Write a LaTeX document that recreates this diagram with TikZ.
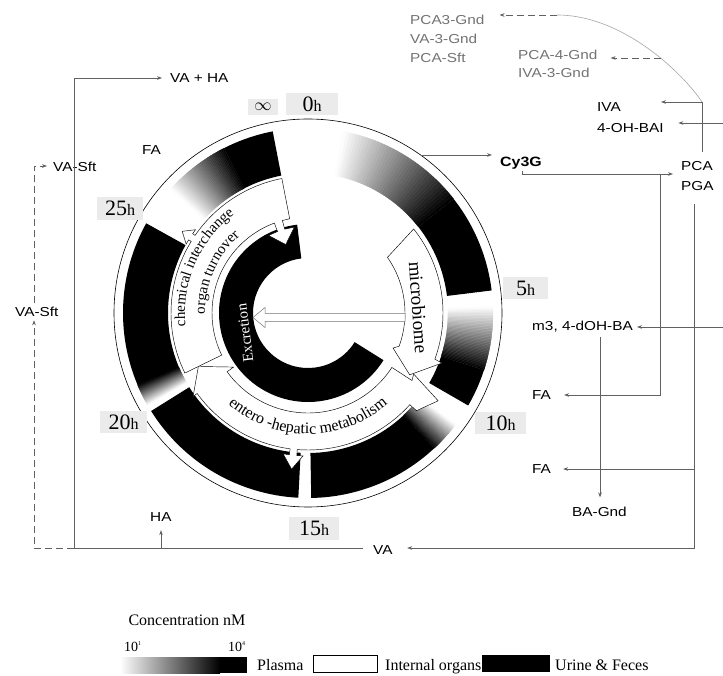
\documentclass[tikz,border=0pt]{standalone}
\usepackage{fontspec}
\setmainfont{Liberation Serif}
\newfontfamily\lsans[FakeStretch=1.18]{Liberation Sans}
\usetikzlibrary{arrows.meta,decorations.text}
\definecolor{boxgray}{gray}{0.92}
\definecolor{txtgray}{gray}{0.45}
\definecolor{linegray}{gray}{0.38}

% plasma band gradient sector: a1, a2, black% at a1, black% at a2
\newcommand{\pgrad}[4]{%
  \foreach \i in {0,...,39}{%
    \pgfmathsetmacro{\aS}{#1+(#2-#1)*\i/40}%
    \pgfmathsetmacro{\aE}{#1+(#2-#1)*(\i+1)/40}%
    \pgfmathsetmacro{\kk}{#3+(#4-#3)*(\i+0.5)/40}%
    \filldraw[black!\kk, line width=0.25pt] (\aS:140pt) arc[start angle=\aS, end angle=\aE, radius=140pt] -- (\aE:185pt) arc[start angle=\aE, end angle=\aS, radius=185pt] -- cycle;
  }%
}
\newcommand{\psolid}[2]{%
  \fill[black] (#1:140pt) arc[start angle=#1, end angle=#2, radius=140pt] -- (#2:185pt) arc[start angle=#2, end angle=#1, radius=185pt] -- cycle;}
\newcommand{\hrs}[1]{#1{\fontsize{16}{16}\selectfont h}}

\begin{document}
\begin{tikzpicture}[x=1pt,y=1pt,
  lab/.style={font=\lsans\fontsize{13}{13}\selectfont, inner sep=0pt, anchor=base west},
  glab/.style={lab, text=txtgray},
  conn/.style={draw=linegray, line width=0.6pt},
  arr/.style={conn, -{Stealth[length=5pt,width=3.6pt]}},
  darr/.style={arr, dash pattern=on 7pt off 4pt},
  band/.style={fill=white, draw=black, line width=0.45pt},
  hbox/.style={fill=boxgray, inner sep=0pt, font=\fontsize{22}{22}\selectfont},
  leg/.style={inner sep=0pt, anchor=base west, font=\fontsize{16}{16}\selectfont},
  arctext/.style={decorate, decoration={text along path, text align=center}}
]
\useasboundingbox (0,0) rectangle (723,675);
\fill[white] (0,0) rectangle (723,675);

\begin{scope}[shift={(308,362)}]
  \coordinate (C) at (0,0);
  \draw[line width=0.6pt] (C) circle[radius=194pt];
  % plasma band
  \psolid{101}{117} \pgrad{117}{138}{100}{0}
  \psolid{151}{203} \pgrad{203}{210}{100}{0}
  \psolid{212}{267}
  \psolid{271}{313} \pgrad{313}{323}{100}{0}
  \psolid{330}{342} \pgrad{342}{362}{100}{0}
  \psolid{7}{38} \pgrad{38}{79}{100}{0}
  % excretion ring
  \fill[black] (97:55pt) arc[start angle=97, end angle=328, radius=55pt] -- (328:89pt) arc[start angle=328, end angle=97, radius=89pt] -- cycle;
  % chemical interchange / organ turnover band
  \filldraw[band] (206:137pt) arc[start angle=206, end angle=148.5, radius=137pt]
     -- (148.5:140pt) -- (150.5:140pt) -- (147:150pt) -- (143.5:140pt) -- (145.5:140pt)
     -- (145.5:137pt) arc[start angle=145.5, end angle=101, radius=137pt]
     -- (101:96pt) -- (105.5:96pt) -- (105.5:87pt) -- (99:87pt) -- (108:72pt) -- (117:87pt) -- (110.5:87pt) -- (110.5:96pt)
     arc[start angle=110.5, end angle=206, radius=96pt] -- cycle;
  % microbiome band
  \filldraw[band] (35:97pt) -- (38.5:135pt) arc[start angle=38.5, end angle=-20, radius=135pt]
     -- (-20.5:143pt) -- (-31.3:119pt) -- (-22.4:92pt) -- (-20:97pt)
     arc[start angle=-20, end angle=35, radius=97pt] -- cycle;
  % entero-hepatic band
  \filldraw[band] (216:100pt) -- (216:92pt) -- (206:122pt) -- (216:142pt) -- (216:137pt)
     arc[start angle=216, end angle=262.5, radius=137pt]
     -- (262.5:143pt) -- (260:143pt) -- (264:157pt) -- (268:143pt) -- (265.5:143pt) -- (265.5:137pt)
     arc[start angle=265.5, end angle=318, radius=137pt]
     -- (318:146pt) -- (326:157pt) -- (330:122pt) -- (327:124pt) -- (327:100pt)
     arc[start angle=327, end angle=216, radius=100pt] -- cycle;
  % central arrow
  \filldraw[fill=white, draw=black!55, line width=0.5pt] (97,-0.5) -- (-43,-0.5) -- (-43,5.5) -- (-55,-4.5) -- (-43,-14.5) -- (-43,-8.5) -- (97,-8.5) -- cycle;
  % texts
  \node[text=white, rotate=97, font=\fontsize{15}{15}\selectfont] (excr) at (-63,-20) {Excretion};
  \node[rotate=-86, font=\fontsize{19}{19}\selectfont] (micro) at (110.5,5.5) {microbiome};
  \path[arctext, decoration={text={|\fontsize{15}{15}\selectfont|chemical interchange}}]
     (195:123pt) arc[start angle=195, end angle=118, radius=123pt];
  \path[arctext, decoration={text={|\fontsize{15}{15}\selectfont|organ turnover}}]
     (190:103pt) arc[start angle=190, end angle=122, radius=103pt];
  \path[arctext, decoration={text={|\fontsize{16}{16}\selectfont|entero -hepatic metabolism}}]
     (215:121pt) arc[start angle=215, end angle=325, radius=121pt];
\end{scope}

% hour labels
\node[hbox, minimum width=30, minimum height=16] (hinf) at (263,568) {\fontsize{19}{19}\selectfont$\infty$};
\node[hbox, minimum width=52, minimum height=22] (h0) at (312,571) {\hrs{0}};
\node[hbox, minimum width=46, minimum height=23] (h25) at (120,466.5) {\hrs{25}};
\node[hbox, minimum width=45, minimum height=22] (h5) at (525.5,387) {\hrs{5}};
\node[hbox, minimum width=51, minimum height=22] (h10) at (500.5,252) {\hrs{10}};
\node[hbox, minimum width=50, minimum height=23] (h15) at (314,146.5) {\hrs{15}};
\node[hbox, minimum width=47, minimum height=22] (h20) at (123.5,253) {\hrs{20}};

% labels
\node[glab] (pca3) at (410,650) {PCA3-Gnd};
\node[glab] (va3) at (410,631) {VA-3-Gnd};
\node[glab] (pcasft) at (410,612) {PCA-Sft};
\node[glab] (pca4) at (518,615) {PCA-4-Gnd};
\node[glab] (iva3) at (518,597) {IVA-3-Gnd};
\node[lab] (iva) at (597,563) {IVA};
\node[lab] (ohbai) at (597,542) {4-OH-BAI};
\node[lab, font=\lsans\bfseries\fontsize{13.5}{13.5}\selectfont] (cy) at (500,508) {Cy3G};
\node[lab] (pca) at (681,504) {PCA};
\node[lab] (pga) at (681,484) {PGA};
\node[lab] (m3) at (532,344) {m3, 4-dOH-BA};
\node[lab] (fa1) at (532,275) {FA};
\node[lab] (fa2) at (532,201) {FA};
\node[lab] (bagnd) at (572,158) {BA-Gnd};
\node[lab] (va) at (373,120) {VA};
\node[lab] (vaha) at (170,592) {VA + HA};
\node[lab] (ha) at (150,153) {HA};
\node[lab] (vasft1) at (53,503) {VA-Sft};
\node[lab] (vasft2) at (15,358) {VA-Sft};
\node[lab] (faL) at (142,520) {FA};

% junction coordinates
\coordinate (cv) at (702,573);
\coordinate (cvend) at (557,660);
\coordinate (cvmid) at (661,617);
\coordinate (redge1) at (723,552);
\coordinate (redge2) at (723,348);
\coordinate (cystart) at (420.6,520);
\coordinate (j1) at (522,501);
\coordinate (j2) at (660,501);
\coordinate (j3) at (660,280);
\coordinate (j4) at (694,471);
\coordinate (j5) at (694,127);
\coordinate (j6) at (694,206);
\coordinate (j7) at (600,338);
\coordinate (j8) at (74,127);
\coordinate (j9) at (74,597);
\coordinate (j10) at (161,127);
\coordinate (d1) at (34,127);
\coordinate (d2) at (34,509);
\coordinate (pcatop) at (702,523);

% connectors
\draw[conn, draw=black!35] (cv) .. controls (682,603) and (622,660) .. (cvend);
\draw[darr] (cvend) -- ([xshift=15pt]pca3.east |- cvend);
\draw[darr] (cvmid) -- ([xshift=13pt]pca4.east |- cvmid);
\draw[conn] (pcatop) -- (cv);
\draw[arr] (cv) -- ([xshift=40pt]iva.east |- cv);
\draw[arr] (redge1) -- ([xshift=14.5pt]ohbai.east |- redge1);
\draw[arr] (cystart) -- ([xshift=-8pt]cy.west |- cystart);
\draw[arr] ([yshift=-1pt]cy.south -| j1) -- (j1) -- ([xshift=-8pt]pca.west |- j1);
\draw[arr] (j2) -- (j3) -- ([xshift=13pt]fa1.east |- j3);
\draw[arr] (j4) -- (j5) -- ([xshift=14.5pt]va.east |- j5);
\draw[arr] (j6) -- ([xshift=12pt]fa2.east |- j6);
\draw[arr] (redge2) -- ([xshift=4pt]m3.east |- redge2);
\draw[arr] (j7) -- ([yshift=10pt]bagnd.north -| j7);
\draw[arr] ([xshift=-10pt]va.west |- j8) -- (j8) -- (j9) -- ([xshift=-8pt]vaha.west |- j9);
\draw[arr] (j10) -- ([yshift=-8pt]ha.south -| j10);
\draw[darr] (j8) -- (d1) -- ([yshift=-3pt]vasft2.south -| d1);
\draw[darr] ([yshift=4pt]vasft2.north -| d1) -- (d2) -- ([xshift=-6pt]vasft1.west |- d2);

% legend
\node[inner sep=0pt, anchor=base, font=\fontsize{16}{16}\selectfont] (conc) at (187,49) {Concentration nM};
\node[leg, font=\fontsize{14}{14}\selectfont] (ten1) at (124,24) {10\raisebox{6pt}{\fontsize{6}{6}\selectfont 1}};
\node[leg, font=\fontsize{14}{14}\selectfont] (ten4) at (228,24) {10\raisebox{6pt}{\fontsize{6}{6}\selectfont 4}};
\shade[left color=white, right color=black] (120,2) rectangle (220,18);
\fill[black] (219.5,2) rectangle (247,18);
\node[leg] (lplasma) at (257,4.5) {Plasma};
\draw[line width=0.6pt, fill=white] (313,3) rectangle (377,20);
\node[leg] (lorg) at (385,4.5) {Internal organs};
\fill[black] (482,3) rectangle (550,20);
\node[leg] (lurine) at (555,4.5) {Urine \& Feces};
\end{tikzpicture}
\end{document}
